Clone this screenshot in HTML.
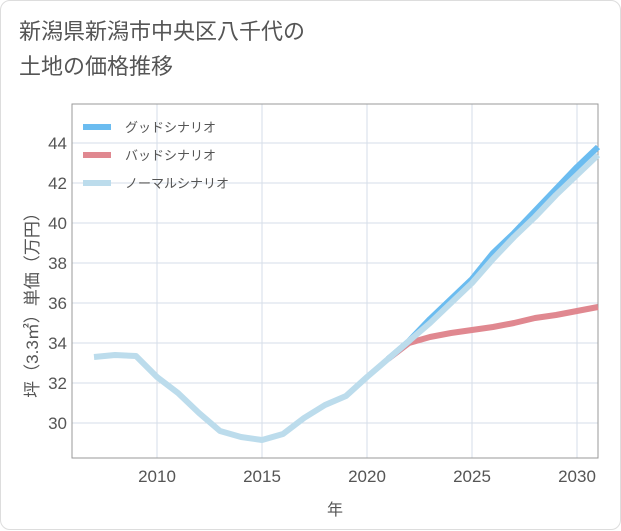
<!DOCTYPE html>
<html><head><meta charset="utf-8"><style>
body{margin:0;background:#fff;font-family:"Liberation Sans","Noto Sans CJK JP",sans-serif;}
#card{position:absolute;left:0;top:0;width:619px;height:528px;border:1px solid #ddd;border-radius:10px;background:#fff;}
#title{position:absolute;left:18px;top:13px;font-size:22px;line-height:35px;color:#555;}
</style></head><body>
<div id="card">
<div id="title">新潟県新潟市中央区八千代の<br>土地の価格推移</div>
<svg id="chart" width="621" height="530" style="position:absolute;left:0;top:0"></svg>
</div>
<script>
const years=[2007,2008,2009,2010,2011,2012,2013,2014,2015,2016,2017,2018,2019,2020,2021,2022,2023,2024,2025,2026,2027,2028,2029,2030,2031];
const normal=[33.3,33.4,33.35,32.3,31.5,30.5,29.6,29.3,29.15,29.45,30.25,30.9,31.35,32.3,33.2,34.1,35.0,36.0,37.0,38.2,39.3,40.3,41.4,42.4,43.4];
const futureYears=[2021,2022,2023,2024,2025,2026,2027,2028,2029,2030,2031];
const good=[33.2,34.1,35.2,36.2,37.2,38.5,39.5,40.6,41.7,42.8,43.8];
const bad=[33.2,34.0,34.3,34.5,34.65,34.8,35.0,35.25,35.4,35.6,35.8];
const xTicks=[2010,2015,2020,2025,2030];
const yTicks=[30,32,34,36,38,40,42,44];
const L=71,R=597,T=103,B=457;
const x=v=>156+(v-2010)*21;
const y=v=>142+(44-v)*20;
const svg=document.getElementById('chart');
const NS='http://www.w3.org/2000/svg';
function mk(t,a,p){const e=document.createElementNS(NS,t);for(const k in a)e.setAttribute(k,a[k]);(p||svg).appendChild(e);return e;}
const grid=mk('g',{});


xTicks.forEach(v=>{mk('line',{x1:x(v),x2:x(v),y1:T,y2:B,stroke:'#d5dde8','stroke-width':1},grid);
const t=mk('text',{x:x(v),y:B+24,'text-anchor':'middle','font-size':17,fill:'#555'});t.textContent=v;

});
yTicks.forEach(v=>{mk('line',{x1:L,x2:R,y1:y(v),y2:y(v),stroke:'#d5dde8','stroke-width':1},grid);
const t=mk('text',{x:L-5,y:y(v)+6,'text-anchor':'end','font-size':17,fill:'#555'});t.textContent=v;

});
mk('rect',{x:L,y:T,width:R-L,height:B-T,fill:'none',stroke:'#999','stroke-width':1});
function line(xs,vs,c,name){const p=mk('polyline',{points:xs.map((a,i)=>x(a)+','+y(vs[i])).join(' '),fill:'none',stroke:c,'stroke-width':6,'stroke-linejoin':'round'});

}
line(futureYears,bad,'#e08890','bad-line');
line(futureYears,good,'#6bbcf0','good-line');
line(years,normal,'#bcdcec','normal-line');
[['グッドシナリオ','#6bbcf0'],['バッドシナリオ','#e08890'],['ノーマルシナリオ','#bcdcec']].forEach((d,i)=>{
const g=mk('g',{});


mk('line',{x1:82,x2:110,y1:126+i*28,y2:126+i*28,stroke:d[1],'stroke-width':6},g);
const t=mk('text',{x:124,y:131+i*28,'font-size':13,fill:'#555'},g);t.textContent=d[0];});
const xt=mk('text',{x:334,y:514,'text-anchor':'middle','font-size':16,fill:'#555'});xt.textContent='年';


const yt=mk('text',{x:0,y:0,'text-anchor':'middle','font-size':17,fill:'#555',transform:'translate(37,300) rotate(-90)'});yt.textContent='坪（3.3㎡）単価（万円）';


</script>
</body></html>
